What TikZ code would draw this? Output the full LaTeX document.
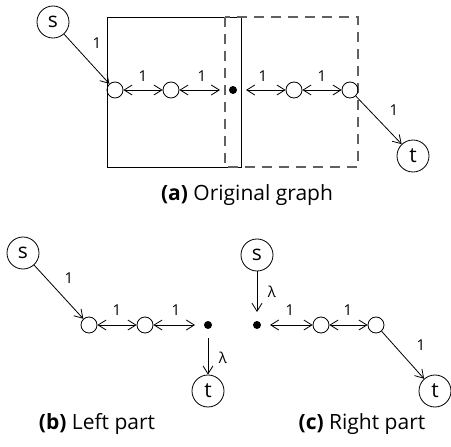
\documentclass[tikz,border=0pt]{standalone}
\usepackage{fontspec}
\setmainfont{Open Sans}
\usetikzlibrary{arrows.meta}
\begin{document}
\begin{tikzpicture}[x=1pt,y=-1pt,
  big/.style={circle, draw, line width=0.8pt, minimum size=32pt, inner sep=0pt, font=\fontsize{21}{24}\selectfont},
  small/.style={circle, draw, line width=0.8pt, minimum size=16pt, inner sep=0pt},
  blackdot/.style={circle, fill, minimum size=8pt, inner sep=0pt, outer sep=9pt},
  lbl/.style={font=\fontsize{15}{17}\selectfont, inner sep=0pt},
  captext/.style={font=\fontsize{21}{25}\selectfont, inner sep=0pt},
  edge/.style={line width=0.8pt, >={Straight Barb[length=8pt,width=10pt]}},
  solidbox/.style={line width=0.8pt},
  dashbox/.style={line width=1.1pt, draw=black!62, dash pattern=on 10pt off 7pt}
]
\useasboundingbox (0,0) rectangle (451,447);
% (a)
\draw[solidbox] (107,17) rectangle (241,167);
\draw[dashbox] (225,17) rectangle (358,167);
\node[big] (sA) at (53,22) {s};
\node[small] (a1) at (115,90) {};
\node[small] (a2) at (171,90) {};
\node[blackdot] (a3) at (233,90) {};
\node[small] (a4) at (294,90) {};
\node[small] (a5) at (350,90) {};
\node[big] (tA) at (413,156) {t};
\draw[edge,->] (sA) -- (a1);
\draw[edge,<->] (a1) -- (a2);
\draw[edge,<->] (a2) -- (a3);
\draw[edge,<->] (a3) -- (a4);
\draw[edge,<->] (a4) -- (a5);
\draw[edge,->] (a5) -- (tA);
\node[lbl] (la0) at (97,43) {1};
\node[lbl] (la1) at (143,76) {1};
\node[lbl] (la2) at (202,76) {1};
\node[lbl] (la3) at (263,76) {1};
\node[lbl] (la4) at (322,76) {1};
\node[lbl] (la5) at (394,110) {1};
\node[captext] (capA) at (247,195) {\textbf{(a)} Original graph};
% (b)
\node[big] (sB) at (23,253) {s};
\node[small] (b1) at (89,325) {};
\node[small] (b2) at (145,325) {};
\node[blackdot] (b3) at (208,325) {};
\node[big] (tB) at (208,391) {t};
\draw[edge,->] (sB) -- (b1);
\draw[edge,<->] (b1) -- (b2);
\draw[edge,<->] (b2) -- (b3);
\draw[edge,->] (b3) -- (tB);
\node[lbl] (lb0) at (69,278) {1};
\node[lbl] (lb1) at (117,310) {1};
\node[lbl] (lb2) at (176,310) {1};
\node[lbl] (lb3) at (223,358) {λ};
\node[captext] (capB) at (97,424) {\textbf{(b)} Left part};
% (c)
\node[big] (sC) at (257,255) {s};
\node[blackdot] (c1) at (257,325) {};
\node[small] (c2) at (321,325) {};
\node[small] (c3) at (376,325) {};
\node[big] (tC) at (435,391) {t};
\draw[edge,->] (sC) -- (c1);
\draw[edge,<->] (c1) -- (c2);
\draw[edge,<->] (c2) -- (c3);
\draw[edge,->] (c3) -- (tC);
\node[lbl] (lc0) at (272,292) {λ};
\node[lbl] (lc1) at (290,310) {1};
\node[lbl] (lc2) at (348,310) {1};
\node[lbl] (lc3) at (421,345) {1};
\node[captext] (capC) at (362,424) {\textbf{(c)} Right part};
\end{tikzpicture}
\end{document}
